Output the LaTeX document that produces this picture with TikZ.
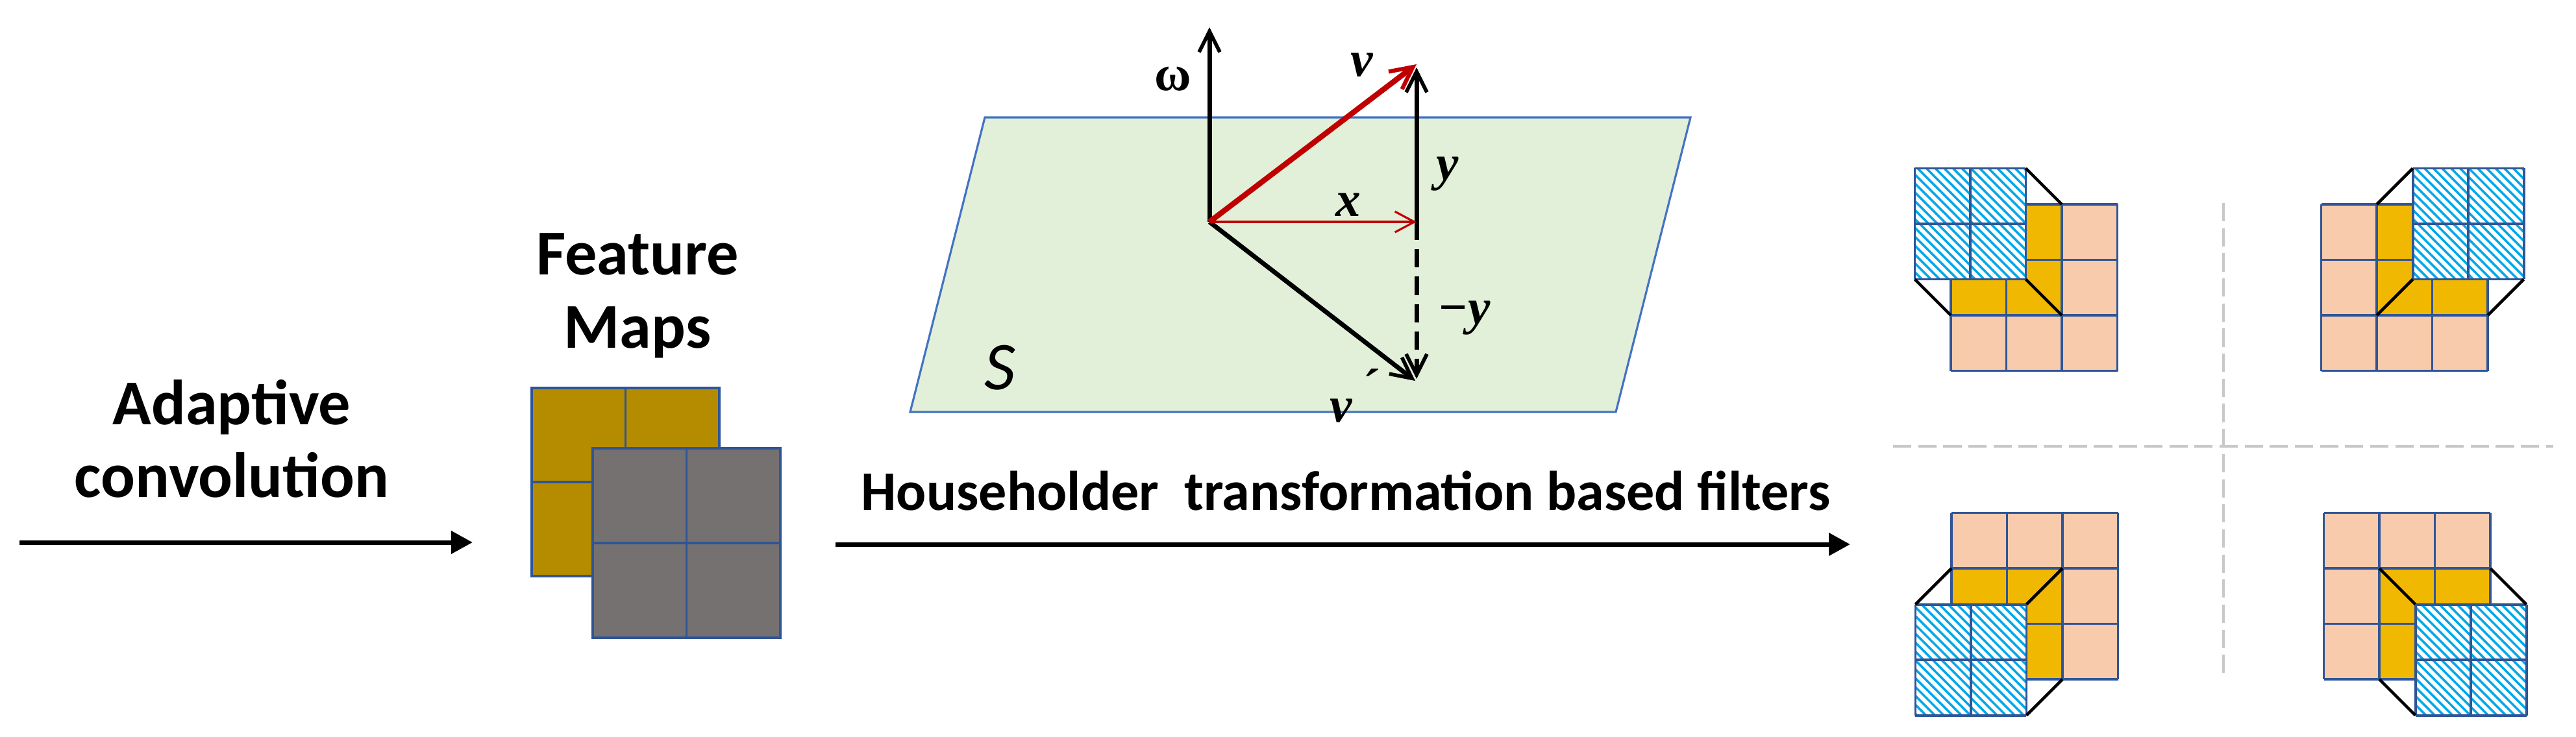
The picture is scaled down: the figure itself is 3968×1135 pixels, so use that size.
\documentclass[tikz,border=0pt]{standalone}
\usepackage{fontspec}
\setmainfont{Carlito}
\newfontfamily\mathserif{Liberation Serif}
\usetikzlibrary{arrows.meta}
\definecolor{gridblue}{HTML}{2F5597}
\definecolor{peach}{HTML}{F8CBAD}
\definecolor{yel}{HTML}{F0B800}
\definecolor{hatchc}{HTML}{00A8E8}
\definecolor{gold}{HTML}{B58B00}
\definecolor{greym}{HTML}{767171}
\definecolor{planeg}{HTML}{E2F0D9}
\definecolor{planeb}{HTML}{4472C4}
\definecolor{redv}{HTML}{C00000}
\definecolor{sep}{HTML}{C8C8C8}
\tikzset{
  gl/.style={draw=gridblue,line width=1.1pt},
  bigarrow/.style={line width=2pt,-{Triangle[length=0.33cm,width=0.34cm]}},
  vec/.style={line width=2pt,-{Straight Barb[length=0.32cm,width=0.32cm,line width=1.6pt]}},
  lbl/.style={font=\fontsize{22}{24}\selectfont\mathserif\bfseries\itshape},
  big/.style={font=\fontsize{28}{30}\selectfont\bfseries,align=center},
  conn/.style={line width=1.3pt,black},
  sepl/.style={draw=sep,line width=1pt,dash pattern=on 8pt off 3pt}
}
% quadrant: ox, oy, sx, sy
\newcommand{\quadr}[4]{%
\begin{scope}[shift={(#1,#2)},xscale=#3*85.5,yscale=#4*85.5]
  \fill[peach] (0,0) rectangle (3,3);
  \fill[yel] (1,0) rectangle (2,2);
  \fill[yel] (0,1) rectangle (1,2);
  \foreach \k in {0,1,2,3}{\draw[gl] (\k,0)--(\k,3); \draw[gl] (0,\k)--(3,\k);}
  \begin{scope}
    \clip (-0.65,-0.65) rectangle (1.35,1.35);
    \fill[white] (-0.65,-0.65) rectangle (1.35,1.35);
    \pgfmathsetmacro{\hd}{#3*#4}
    \foreach \i in {-4.4,-4.24,...,2.5}{
      \draw[hatchc,line width=1pt] ({\i*\hd+0.35},-0.9) -- ++({\hd*3},3);}
  \end{scope}
  \foreach \k in {-0.65,0.35,1.35}{\draw[gl] (\k,-0.65)--(\k,1.35); \draw[gl] (-0.65,\k)--(1.35,\k);}
  \draw[conn] (1.35,-0.65)--(2,0);
  \draw[conn] (-0.65,1.35)--(0,2);
  \draw[conn] (1.35,1.35)--(2,2);
\end{scope}}
\begin{document}
\begin{tikzpicture}[x=0.01cm,y=-0.01cm]
\useasboundingbox (0,0) rectangle (3968,1135);
% left
\node[big] (adapt) at (357,676) {Adaptive\\[2pt]convolution};
\coordinate (a1) at (30,836); \coordinate (a2) at (728,836);
\draw[bigarrow] (a1) -- (a2);
\node[big] (fm) at (982,456) {Feature\\[2pt]Maps};
% feature maps
\fill[gold] (819,598) rectangle (1108,888);
\draw[gridblue,line width=1pt] (819,598) rectangle (1108,888) (963.5,598)--(963.5,888) (819,743)--(1108,743);
\fill[greym] (913,691) rectangle (1202,983);
\draw[gridblue,line width=1pt] (913,691) rectangle (1202,983) (1057.5,691)--(1057.5,983) (913,837)--(1202,837);
% second arrow
\coordinate (b1) at (1287,839); \coordinate (b2) at (2850,839);
\draw[bigarrow] (b1) -- (b2);
\node[font=\fontsize{24.5}{26}\selectfont\bfseries,anchor=base] (hh) at (2073,786) {Householder\ \ transformation based filters};
% plane
\draw[fill=planeg,draw=planeb,line width=0.9pt] (1517,181) -- (2604,181) -- (2489,635) -- (1402,635) -- cycle;
\node[font=\fontsize{30}{30}\selectfont\itshape] (S) at (1540,567) {S};
\coordinate (O) at (1863,342);
\coordinate (W) at (1863,42);
\coordinate (V) at (2182,99);
\coordinate (X) at (2182,342);
\coordinate (Vp) at (2180,587);
\coordinate (Ym) at (2182,584);
\draw[vec] (O) -- (W);
\draw[vec] (X) -- ([yshift=-0.05cm]V);
\draw[vec,dash pattern=on 8pt off 4pt] (X) -- (Ym);
\draw[vec] (O) -- (Vp);
\draw[redv,line width=0.9pt,-{Straight Barb[length=0.3cm,width=0.32cm,line width=0.9pt]}] (O) -- (X);
\draw[redv,line width=2.4pt,-{Straight Barb[length=0.34cm,width=0.34cm,line width=1.8pt]}] (O) -- (V);
\node[font=\fontsize{22}{24}\selectfont\mathserif\bfseries] (lw) at (1807,122) {ω};
\node[lbl] (lv) at (2098,100) {v};
\node[lbl] (ly) at (2230,268) {y};
\node[lbl] (lx) at (2077,316) {x};
\node[lbl] (lmy) at (2255,490) {−y};
\node[lbl] (lvp) at (2085,610) {v\raisebox{0.35em}{\,\textasciiacute}};
% right
\draw[sepl] (3425,313) -- (3425,1038);
\draw[sepl] (2916,688) -- (3933,688);
\quadr{3005}{315}{1}{1}
\quadr{3832}{315}{-1}{1}
\quadr{3006}{1047}{1}{-1}
\quadr{3836}{1047}{-1}{-1}
\end{tikzpicture}
\end{document}
